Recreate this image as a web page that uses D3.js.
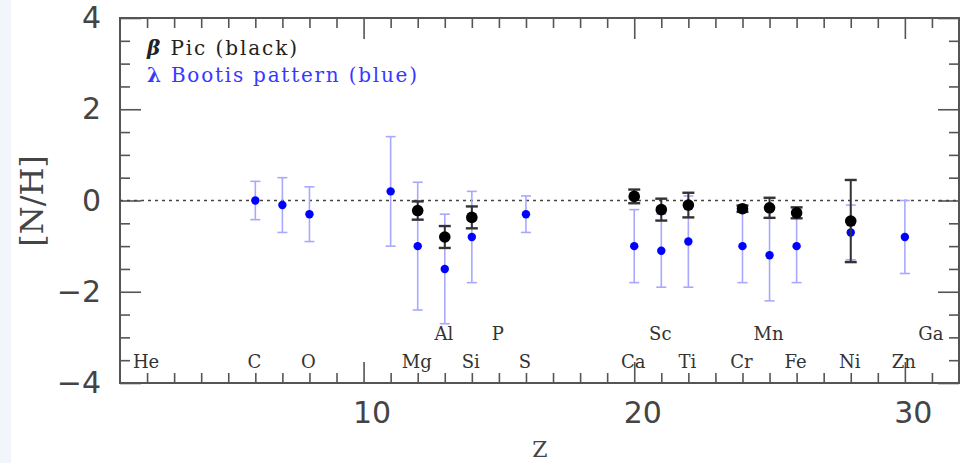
<!DOCTYPE html>
<html lang="en">
<head>
  <script src="https://d3js.org/d3.v7.min.js"></script>
  <meta charset="UTF-8">
  <title>[N/H] vs Z</title>
  <style>
    body { margin: 0; background: #fff; }
    .axis .domain { display: none; }
    .axis line { stroke: #555; stroke-width: 1.6; }
    .axis text { font-family: "DejaVu Sans", sans-serif; font-size: 30px; fill: #444; }
    .elem { font-family: "DejaVu Serif", serif; font-size: 18px; fill: #333; }
    .legend { font-family: "DejaVu Serif", serif; font-size: 20px; }
  </style>
</head>
<body>
  <svg id="chart" width="961" height="463"></svg>
  <script>
    // blue = lambda Bootis pattern, black = beta Pic
    const blueZ   = [6, 7, 8, 11, 12, 13, 14, 16, 20, 21, 22, 24, 25, 26, 28, 30];
    const blueVal = [0.0, -0.1, -0.3, 0.2, -1.0, -1.5, -0.8, -0.3, -1.0, -1.1, -0.9, -1.0, -1.2, -1.0, -0.7, -0.8];
    const blueErr = [0.42, 0.6, 0.6, 1.2, 1.4, 1.2, 1.0, 0.4, 0.8, 0.8, 1.0, 0.8, 1.0, 0.8, 0.6, 0.8];

    const blackZ   = [12, 13, 14, 20, 21, 22, 24, 25, 26, 28];
    const blackVal = [-0.22, -0.8, -0.37, 0.09, -0.2, -0.1, -0.18, -0.16, -0.27, -0.45];
    const blackErr = [0.2, 0.24, 0.24, 0.15, 0.24, 0.27, 0.07, 0.22, 0.12, 0.9];

    const elemNames = ["He", "C", "O", "Mg", "Al", "Si", "P", "S", "Ca", "Sc", "Ti", "Cr", "Mn", "Fe", "Ni", "Zn", "Ga"];
    const elemZ     = [2, 6, 8, 12, 13, 14, 15, 16, 20, 21, 22, 24, 25, 26, 28, 30, 31];
    const elemRow   = [0, 0, 0, 0, 1, 0, 1, 0, 0, 1, 0, 0, 1, 0, 0, 0, 1];

    const xMajor = [10, 20, 30];
    const yMajor = [4, 2, 0, -2, -4];

    const svg = d3.select("#chart");
    const m = { left: 120, right: 959, top: 18, bottom: 383 };

    svg.append("rect").attr("x", 0).attr("y", 0).attr("width", 11).attr("height", 463).attr("fill", "#f3f5fc");

    const x = d3.scaleLinear().domain([1, 32]).range([m.left, m.right]);
    const y = d3.scaleLinear().domain([-4, 4]).range([m.bottom, m.top]);

    const xMinor = d3.range(2, 32).filter(d => !xMajor.includes(d));
    const yMinor = d3.range(-3.5, 4, 0.5).filter(d => !yMajor.includes(d));

    // ticks on all four sides, pointing inwards
    const axes = svg.append("g").attr("class", "axis");
    axes.append("g").attr("transform", `translate(0,${m.bottom})`)
      .call(d3.axisBottom(x).tickValues(xMinor).tickSize(-10).tickFormat(""));
    axes.append("g").attr("transform", `translate(0,${m.bottom})`)
      .call(d3.axisBottom(x).tickValues(xMajor).tickSize(-21).tickPadding(19).tickFormat(d3.format("d")))
      .selectAll("text").attr("dx", 8);
    axes.append("g").attr("transform", `translate(0,${m.top})`)
      .call(d3.axisTop(x).tickValues(xMinor).tickSize(-10).tickFormat(""));
    axes.append("g").attr("transform", `translate(0,${m.top})`)
      .call(d3.axisTop(x).tickValues(xMajor).tickSize(-21).tickFormat(""));

    axes.append("g").attr("transform", `translate(${m.left},0)`)
      .call(d3.axisLeft(y).tickValues(yMinor).tickSize(-10).tickFormat(""));
    axes.append("g").attr("transform", `translate(${m.left},0)`)
      .call(d3.axisLeft(y).tickValues(yMajor).tickSize(-21).tickPadding(19).tickFormat(d => d3.format("d")(d).replace("-", "\u2212")));
    axes.append("g").attr("transform", `translate(${m.right},0)`)
      .call(d3.axisRight(y).tickValues(yMinor).tickSize(-10).tickFormat(""));
    axes.append("g").attr("transform", `translate(${m.right},0)`)
      .call(d3.axisRight(y).tickValues(yMajor).tickSize(-21).tickFormat(""));

    // frame
    svg.append("rect")
      .attr("x", m.left).attr("y", m.top)
      .attr("width", m.right - m.left).attr("height", m.bottom - m.top)
      .attr("fill", "none").attr("stroke", "#555").attr("stroke-width", 2);

    // zero line
    svg.append("line")
      .attr("x1", x(1)).attr("x2", x(32)).attr("y1", y(0)).attr("y2", y(0))
      .attr("stroke", "#444").attr("stroke-width", 1.3).attr("stroke-dasharray", "3,4");

    // blue error bars + points
    const blue = svg.append("g");
    blueZ.forEach((z, i) => {
      const cx = x(z), lo = y(blueVal[i] - blueErr[i]), hi = y(blueVal[i] + blueErr[i]);
      blue.append("line").attr("x1", cx).attr("x2", cx).attr("y1", lo).attr("y2", hi)
        .attr("stroke", "#a8a8ff").attr("stroke-width", 1.6);
      [lo, hi].forEach(yy => blue.append("line")
        .attr("x1", cx - 5).attr("x2", cx + 5).attr("y1", yy).attr("y2", yy)
        .attr("stroke", "#a8a8ff").attr("stroke-width", 1.6));
    });
    blue.selectAll("circle").data(blueZ).join("circle")
      .attr("cx", d => x(d)).attr("cy", (d, i) => y(blueVal[i])).attr("r", 4.2).attr("fill", "#0000ff");

    // black error bars + points
    const black = svg.append("g");
    blackZ.forEach((z, i) => {
      const cx = x(z), lo = y(blackVal[i] - blackErr[i]), hi = y(blackVal[i] + blackErr[i]);
      black.append("line").attr("x1", cx).attr("x2", cx).attr("y1", lo).attr("y2", hi)
        .attr("stroke", "#333").attr("stroke-width", 2);
      [lo, hi].forEach(yy => black.append("line")
        .attr("x1", cx - 6).attr("x2", cx + 6).attr("y1", yy).attr("y2", yy)
        .attr("stroke", "#333").attr("stroke-width", 2.4));
    });
    black.selectAll("circle").data(blackZ).join("circle")
      .attr("cx", d => x(d)).attr("cy", (d, i) => y(blackVal[i])).attr("r", 5.8).attr("fill", "#000");

    // element labels
    svg.append("g").selectAll("text").data(elemNames).join("text")
      .attr("class", "elem")
      .attr("x", (d, i) => x(elemZ[i]) - 1)
      .attr("y", (d, i) => elemRow[i] ? 340 : 368)
      .attr("text-anchor", "middle")
      .text(d => d);

    // legend
    const leg1 = svg.append("text").attr("class", "legend").attr("x", 147).attr("y", 55)
      .attr("fill", "#222").attr("textLength", 150).attr("lengthAdjust", "spacing");
    leg1.append("tspan").attr("font-weight", "bold").attr("font-style", "italic").text("\u03b2");
    leg1.append("tspan").text(" Pic (black)");
    const leg2 = svg.append("text").attr("class", "legend").attr("x", 147).attr("y", 82)
      .attr("fill", "#3838ff").attr("textLength", 270).attr("lengthAdjust", "spacing");
    leg2.append("tspan").attr("font-weight", "bold").text("\u03bb");
    leg2.append("tspan").text(" Bootis pattern (blue)");

    // axis titles
    svg.append("text").attr("transform", "translate(43,201) rotate(-90)")
      .attr("text-anchor", "middle")
      .attr("font-family", "DejaVu Serif, serif").attr("font-size", 32).attr("fill", "#444")
      .text("[N/H]");
    svg.append("text").attr("x", 540).attr("y", 457)
      .attr("text-anchor", "middle")
      .attr("font-family", "DejaVu Serif, serif").attr("font-size", 22).attr("fill", "#444")
      .text("Z");
  </script>
</body>
</html>
